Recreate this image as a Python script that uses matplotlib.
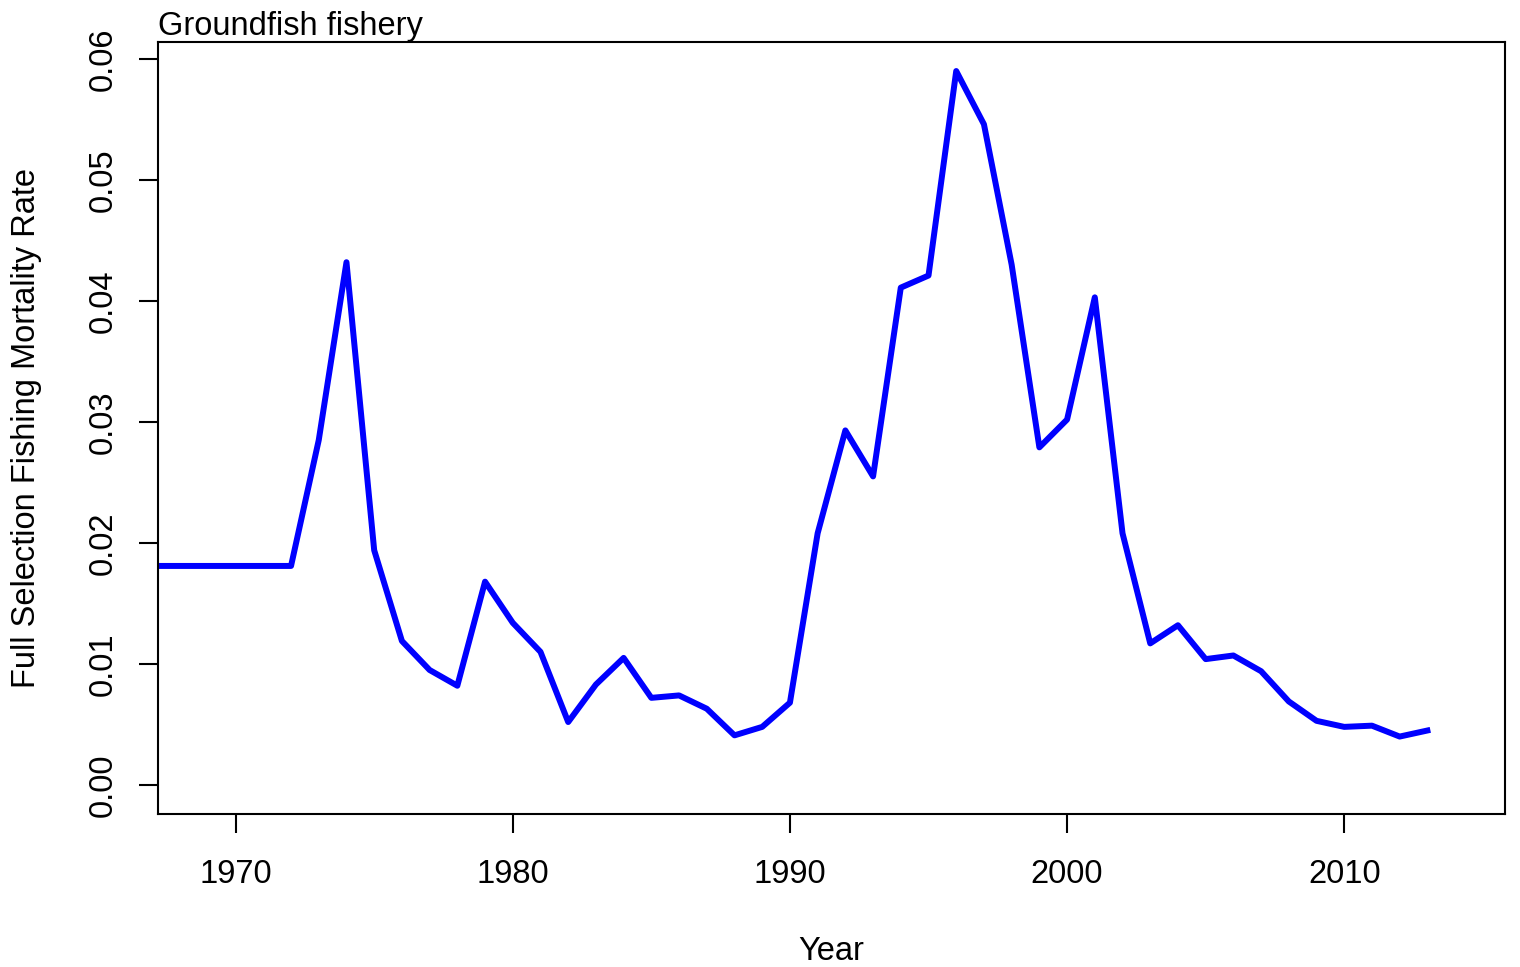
import numpy as np
import matplotlib.pyplot as plt

plt.rcParams['font.family'] = ['Liberation Sans', 'DejaVu Sans']

years = list(range(1967, 2014))
f_rate = [0.0181, 0.0181, 0.0181, 0.0181, 0.0181, 0.0181,
          0.0285, 0.0432, 0.0194, 0.0119, 0.0095, 0.0082, 0.0168,
          0.0134, 0.0110, 0.0052, 0.0083, 0.0105, 0.0072, 0.0074,
          0.0063, 0.0041, 0.0048, 0.0068, 0.0208, 0.0293, 0.0255,
          0.0411, 0.0421, 0.0590, 0.0546, 0.0430, 0.0279, 0.0302,
          0.0403, 0.0208, 0.0117, 0.0132, 0.0104, 0.0107, 0.0094,
          0.0069, 0.0053, 0.0048, 0.0049, 0.0040, 0.0045]

xticks = [1970, 1980, 1990, 2000, 2010]
yticks = [0.00, 0.01, 0.02, 0.03, 0.04, 0.05, 0.06]

fs = 23.5

fig = plt.figure(figsize=(15.2, 9.67), dpi=100)
ax = fig.add_axes([158/1520, 1 - 814/967, (1505 - 158)/1520, (814 - 42)/967])

ax.plot(years, f_rate, color='blue', lw=4.3, solid_joinstyle='round')

ax.set_xlim(1967.2, 2015.8)
ax.set_ylim(-0.0024, 0.0614)
ax.set_xticks(xticks)
ax.set_yticks(yticks)
ax.set_yticklabels([f'{v:.2f}' for v in yticks], rotation=90, va='center')
ax.tick_params(axis='both', labelsize=fs, length=14, width=1.5, direction='out')
ax.tick_params(axis='x', pad=18.5)
ax.tick_params(axis='y', pad=14)
for s in ax.spines.values():
    s.set_linewidth(1.5)

ax.set_xlabel('Year', fontsize=fs, labelpad=33)
ax.set_ylabel('Full Selection Fishing Mortality Rate', fontsize=fs, labelpad=33)
ax.set_title('Groundfish fishery', loc='left', fontsize=fs, pad=3)

fig.savefig('out.png', dpi=100)
